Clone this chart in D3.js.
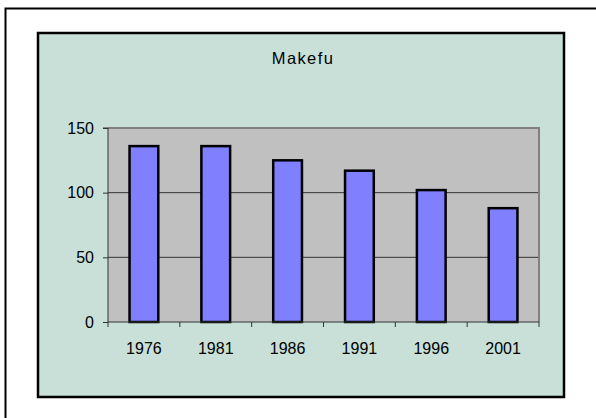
<!DOCTYPE html>
<html lang="en">
<head>
<meta charset="UTF-8">
<title>Makefu</title>
<style>
  body { margin: 0; background: #fff; }
  text { font-family: "Liberation Sans", Arial, sans-serif; }
</style>
</head>
<body>
<script src="https://d3js.org/d3.v7.min.js"></script>
<script>
  const years = ["1976", "1981", "1986", "1991", "1996", "2001"];
  const values = [136, 136, 125, 117, 102, 88];
  const yTicks = [0, 50, 100, 150];
  const title = "Makefu";

  const w = 596, h = 418;
  const svg = d3.select("body").append("svg")
    .attr("width", w)
    .attr("height", h);

  // outer frame
  svg.append("rect")
    .attr("x", 5.5).attr("y", 8.5)
    .attr("width", 600).attr("height", 420)
    .attr("fill", "#fff").attr("stroke", "#000").attr("stroke-width", 2);

  // chart area
  svg.append("rect")
    .attr("x", 38).attr("y", 33)
    .attr("width", 526).attr("height", 364)
    .attr("fill", "#c8e0d8").attr("stroke", "#000").attr("stroke-width", 2.5);

  const plot = { left: 108, right: 539, top: 128, bottom: 322 };

  const x = d3.scaleBand().domain(years).range([plot.left, plot.right]).paddingInner(0.6).paddingOuter(0.3);
  const xb = d3.scaleBand().domain(years).range([plot.left, plot.right]);
  const y = d3.scaleLinear().domain([0, 150]).range([plot.bottom, plot.top]);

  svg.append("rect")
    .attr("x", plot.left).attr("y", plot.top)
    .attr("width", plot.right - plot.left).attr("height", plot.bottom - plot.top)
    .attr("fill", "#c0c0c0");

  // gridlines
  svg.selectAll("line.grid").data(yTicks.filter(d => d > 0 && d < 150)).enter().append("line")
    .attr("class", "grid")
    .attr("x1", plot.left).attr("x2", plot.right)
    .attr("y1", d => y(d)).attr("y2", d => y(d))
    .attr("stroke", "#333").attr("stroke-width", 1);

  // top and right edge of plot
  svg.append("path")
    .attr("d", `M${plot.left},${plot.top}H${plot.right}V${plot.bottom}`)
    .attr("fill", "none").attr("stroke", "#808080").attr("stroke-width", 2);

  // bars
  svg.selectAll("rect.bar").data(values).enter().append("rect")
    .attr("class", "bar")
    .attr("x", (d, i) => x(years[i]))
    .attr("width", x.bandwidth())
    .attr("y", d => y(d))
    .attr("height", d => y(0) - y(d))
    .attr("fill", "#8080ff").attr("stroke", "#000").attr("stroke-width", 2.5);

  // y axis
  const yAxis = d3.axisLeft(y).tickValues(yTicks).tickSize(5).tickPadding(9);
  const ya = svg.append("g").attr("transform", `translate(${plot.left},0)`).call(yAxis);
  ya.select(".domain").attr("stroke", "#333").attr("d", `M-5,${plot.top}H0V${plot.bottom}`);
  ya.selectAll(".tick line").attr("stroke", "#333");
  ya.selectAll("text").attr("font-size", 16).attr("fill", "#000")
    .style("font-family", "'Liberation Sans', Arial, sans-serif");

  // x axis
  const xAxis = d3.axisBottom(xb).tickSize(0).tickPadding(21);
  const xa = svg.append("g").attr("transform", `translate(0,${plot.bottom})`).call(xAxis);
  xa.select(".domain").attr("stroke", "#333").attr("d", `M${plot.left},0H${plot.right}`);
  xa.selectAll("text").attr("font-size", 16).attr("fill", "#000")
    .style("font-family", "'Liberation Sans', Arial, sans-serif");
  xa.selectAll("line.bound").data(years.concat([""])).enter().append("line")
    .attr("class", "bound")
    .attr("x1", (d, i) => plot.left + i * xb.step()).attr("x2", (d, i) => plot.left + i * xb.step())
    .attr("y1", 0).attr("y2", 5)
    .attr("stroke", "#333");

  svg.append("text")
    .attr("x", 303).attr("y", 64)
    .attr("text-anchor", "middle")
    .attr("font-size", 16.5)
    .attr("letter-spacing", 1.4)
    .text(title);
</script>
</body>
</html>
